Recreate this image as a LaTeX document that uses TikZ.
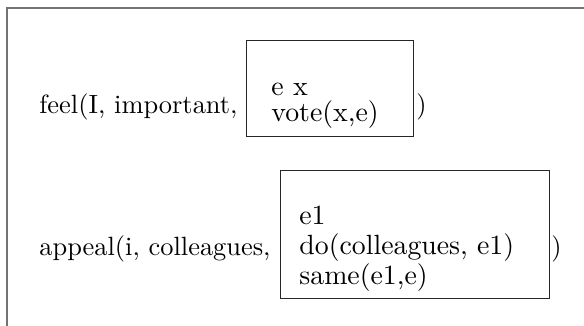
\documentclass[tikz,border=0pt]{standalone}
\usepackage{fontspec}
\setmainfont{lmroman10-regular.otf}
\tikzset{
  txt/.style={anchor=base west, inner sep=0pt, font=\fontsize{13.2}{16}\selectfont},
  intxt/.style={anchor=base west, inner sep=0pt, font=\fontsize{13.9}{16}\selectfont},
  drsbox/.style={draw=black!85, line width=0.5pt, inner sep=0pt},
  frame/.style={draw=black!55, line width=1pt}
}
\begin{document}
\begin{tikzpicture}[x=0.5pt, y=-0.5pt]
\useasboundingbox (0,0) rectangle (584,326);
% outer frame (only top and left visible)
\coordinate (fbl) at (6.5,330);
\coordinate (ftl) at (6.5,8);
\coordinate (ftr) at (590,8);
\draw[frame] (fbl) -- (ftl) -- (ftr);
% first line
\node[txt] (feel) at (39,114) {feel(I, important,};
\node[drsbox, minimum width=83.5pt, minimum height=48pt] (box1) at (329.5,89) {};
\node[intxt] (ex) at (271,95.5) {e x};
\node[intxt] (vote) at (271,121.5) {vote(x,e)};
\node[txt] (close1) at (416,114) {)};
% second line
\node[txt] (appeal) at (39,256) {appeal(i, colleagues,};
\node[drsbox, minimum width=134.5pt, minimum height=63.5pt] (box2) at (414.5,234.5) {};
\node[intxt] (e1) at (299,224) {e1};
\node[intxt] (do) at (299,255) {do(colleagues, e1)};
\node[intxt] (same) at (299,285) {same(e1,e)};
\node[txt] (close2) at (551,256) {)};
\end{tikzpicture}
\end{document}
